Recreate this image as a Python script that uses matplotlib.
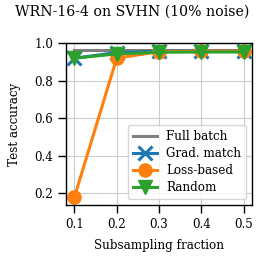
import numpy as np
import matplotlib
matplotlib.use("Agg")
import matplotlib.pyplot as plt

plt.rcParams['font.family'] = ['DejaVu Serif']
plt.rcParams['font.size'] = 8.6
plt.rcParams['axes.linewidth'] = 1.0
plt.rcParams['xtick.major.size'] = 5.5
plt.rcParams['ytick.major.size'] = 5.5
plt.rcParams['xtick.major.width'] = 1.0
plt.rcParams['ytick.major.width'] = 1.0

# donnees
fractions = [0.1, 0.2, 0.3, 0.4, 0.5]
full_batch = [0.962, 0.962, 0.962, 0.962, 0.962]
grad_match = [0.92, 0.95, 0.958, 0.96, 0.96]
loss_based = [0.18, 0.92, 0.955, 0.958, 0.958]
random_sel = [0.92, 0.943, 0.952, 0.953, 0.953]

fig = plt.figure(figsize=(2.65, 2.65), dpi=100)
ax = fig.add_axes([0.249, 0.226, 0.702, 0.611])

ax.plot(fractions, full_batch, color='tab:gray', lw=2.2, label='Full batch')
ax.plot(fractions, grad_match, color='tab:blue', lw=2.2, marker='x', ms=9.5, mew=2.2, label='Grad. match')
ax.plot(fractions, loss_based, color='tab:orange', lw=2.2, marker='o', ms=9.5, label='Loss-based')
ax.plot(fractions, random_sel, color='tab:green', lw=2.2, marker='v', ms=9.5, label='Random')

fig.text(0.5, 1 - 12 / 265, 'WRN-16-4 on SVHN (10% noise)', ha='center', va='center', fontsize=10.2)
ax.set_xlabel('Subsampling fraction')
ax.set_ylabel('Test accuracy')
ax.xaxis.set_label_coords(0.5, -0.21)
ax.yaxis.set_label_coords(-0.24, 0.5)
ax.set_xticks(fractions)
ax.set_yticks([0.2, 0.4, 0.6, 0.8, 1.0])
ax.set_ylim(0.137, 1.0)
ax.grid(True, color='#cccccc')
ax.set_axisbelow(True)
ax.legend(loc='lower right', fontsize=8.6, labelspacing=0.35)

plt.savefig('out.png', dpi=100)
